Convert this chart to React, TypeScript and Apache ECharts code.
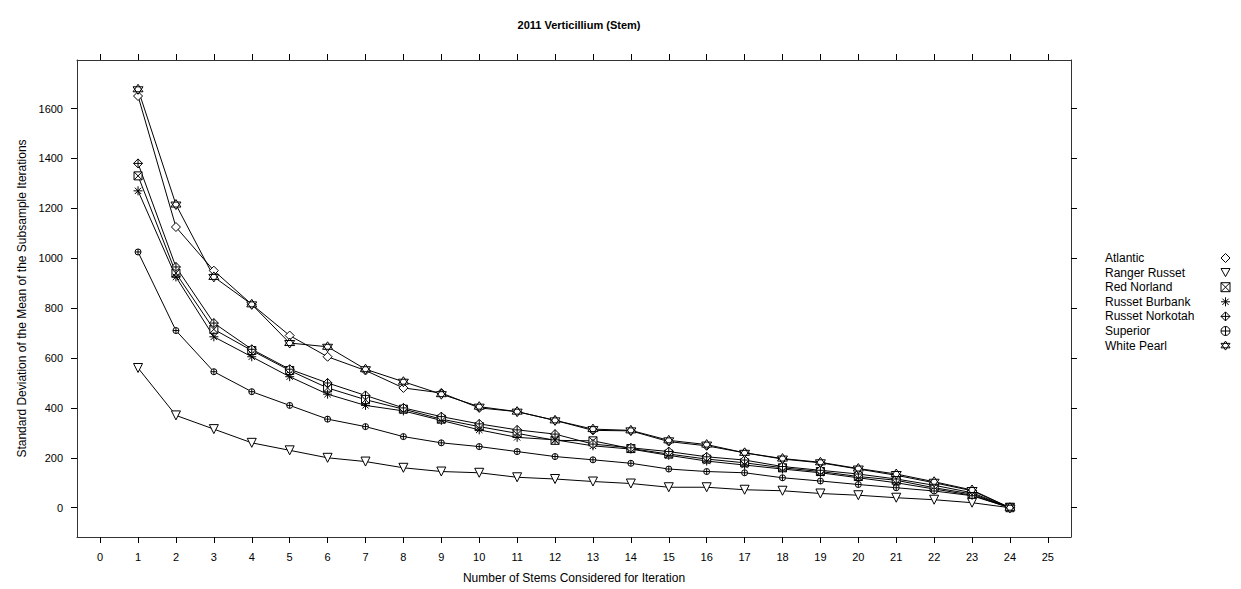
import React, { useEffect, useRef } from "react";
import * as echarts from "echarts";

const stems = [1, 2, 3, 4, 5, 6, 7, 8, 9, 10, 11, 12, 13, 14, 15, 16, 17, 18, 19, 20, 21, 22, 23, 24];

const atlantic = [1650, 1125, 950, 815, 690, 605, 550, 480, 460, 400, 385, 350, 310, 308, 265, 248, 220, 195, 180, 155, 130, 100, 68, 0];
const rangerRusset = [560, 370, 315, 260, 230, 200, 185, 160, 145, 140, 122, 115, 105, 97, 82, 82, 72, 68, 57, 50, 40, 32, 20, 0];
const redNorland = [1330, 940, 715, 630, 550, 480, 433, 395, 355, 325, 298, 270, 268, 237, 215, 195, 180, 160, 145, 125, 110, 80, 55, 0];
const russetBurbank = [1270, 925, 685, 605, 525, 455, 410, 388, 350, 312, 282, 272, 248, 235, 210, 187, 171, 155, 140, 120, 100, 75, 50, 0];
const russetNorkotah = [1380, 965, 740, 635, 555, 500, 450, 400, 365, 336, 312, 295, 255, 240, 225, 204, 191, 165, 150, 135, 115, 90, 60, 0];
const superior = [1025, 710, 545, 465, 410, 355, 325, 285, 260, 245, 225, 205, 192, 178, 155, 145, 140, 120, 107, 93, 80, 67, 48, 0];
const whitePearl = [1677, 1215, 925, 815, 660, 645, 555, 505, 455, 405, 385, 350, 315, 310, 270, 253, 220, 197, 182, 157, 135, 104, 71, 0];

const xTicks = [0, 1, 2, 3, 4, 5, 6, 7, 8, 9, 10, 11, 12, 13, 14, 15, 16, 17, 18, 19, 20, 21, 22, 23, 24, 25];
const yTicks = [0, 200, 400, 600, 800, 1000, 1200, 1400, 1600];

const varieties = ["Atlantic", "Ranger Russet", "Red Norland", "Russet Burbank", "Russet Norkotah", "Superior", "White Pearl"];
const values = [atlantic, rangerRusset, redNorland, russetBurbank, russetNorkotah, superior, whitePearl];

const symbols = [
  "path://M5,0L10,5L5,10L0,5Z",
  "path://M0,0L10,0L5,9Z",
  "path://M0,0L10,0L10,10L0,10Z M0,0L10,10 M10,0L0,10",
  "path://M5,0L5,10 M0,5L10,5 M1.5,1.5L8.5,8.5 M8.5,1.5L1.5,8.5",
  "path://M5,0L10,5L5,10L0,5Z M5,0L5,10 M0,5L10,5",
  "path://M0,5A5,5 0 1,1 10,5A5,5 0 1,1 0,5Z M5,0L5,10 M0,5L10,5",
  "path://M5,0L10,7.5L0,7.5Z M0,2.5L10,2.5L5,10Z",
];
const sizes = [9, 9, 8, 9, 9, 6, 10];

const FONT = "'Liberation Sans', Arial, sans-serif";

// lattice-style 7% padding of the data range
const xMin = -0.61;
const xMax = 25.61;
const yMin = -117.4;
const yMax = 1794.4;

export default function App() {
  const ref = useRef<HTMLDivElement>(null);
  useEffect(() => {
    if (!ref.current) return;
    const chart = echarts.init(ref.current, null, { renderer: "svg" });
    const axisLine = { show: true, onZero: false, lineStyle: { color: "#333", width: 1 } };
    const tickStyle = { show: true, inside: false, length: 6, lineStyle: { color: "#000" } };
    const series = varieties.map((name, i) => ({
      name,
      type: "line",
      xAxisIndex: 0,
      yAxisIndex: 0,
      data: stems.map((s, j) => [s, values[i][j]]),
      symbol: symbols[i],
      symbolSize: sizes[i],
      showAllSymbol: true,
      lineStyle: { color: "#000", width: 1 },
      itemStyle: { color: "#fff", borderColor: "#000", borderWidth: 1 },
      emphasis: { disabled: true },
    }));
    chart.setOption({
      animation: false,
      textStyle: { fontFamily: FONT },
      title: {
        text: "2011 Verticillium (Stem)",
        left: 574,
        top: 14,
        textAlign: "center",
        textStyle: { fontSize: 11, fontWeight: "bold", color: "#000", fontFamily: FONT },
      },
      legend: {
        orient: "vertical",
        left: 1100,
        top: 247,
        align: "right",
        selectedMode: false,
        itemWidth: 9,
        itemHeight: 9,
        itemGap: 2.6,
        formatter: "{a|{name}}",
        textStyle: {
          fontSize: 12,
          color: "#000",
          fontFamily: FONT,
          rich: { a: { width: 111, align: "left", fontSize: 12, color: "#000", fontFamily: FONT } },
        },
        itemStyle: { color: "#fff", borderColor: "#000", borderWidth: 1 },
        data: varieties.map((n, i) => ({ name: n, icon: symbols[i] })),
      },
      grid: { left: 77, right: 170, top: 60, bottom: 52, containLabel: false },
      xAxis: [
        {
          type: "value",
          position: "bottom",
          min: xMin,
          max: xMax,
          axisLine,
          axisTick: { ...tickStyle, customValues: xTicks },
          axisLabel: { show: true, customValues: xTicks, fontSize: 11, color: "#000", margin: 14, fontFamily: FONT },
          splitLine: { show: false },
          name: "Number of Stems Considered for Iteration",
          nameLocation: "middle",
          nameGap: 35,
          nameTextStyle: { fontSize: 12, color: "#000", fontFamily: FONT },
        },
        {
          type: "value",
          position: "top",
          min: xMin,
          max: xMax,
          axisLine,
          axisTick: { ...tickStyle, customValues: xTicks },
          axisLabel: { show: false },
          splitLine: { show: false },
        },
      ],
      yAxis: [
        {
          type: "value",
          position: "left",
          min: yMin,
          max: yMax,
          axisLine,
          axisTick: { ...tickStyle, customValues: yTicks },
          axisLabel: {
            show: true,
            customValues: yTicks,
            fontSize: 11,
            color: "#000",
            margin: 14,
            fontFamily: FONT,
            formatter: (v: number) => String(v),
          },
          splitLine: { show: false },
          name: "Standard Deviation of the Mean of the Subsample Iterations",
          nameLocation: "middle",
          nameGap: 45,
          nameRotate: 90,
          nameTextStyle: { fontSize: 12, color: "#000", fontFamily: FONT },
        },
        {
          type: "value",
          position: "right",
          min: yMin,
          max: yMax,
          axisLine,
          axisTick: { ...tickStyle, customValues: yTicks },
          axisLabel: { show: false },
          splitLine: { show: false },
        },
      ],
      series,
    });
    return () => chart.dispose();
  }, []);
  return (
    <div
      ref={ref}
      style={{ position: "fixed", left: 0, top: 0, width: 1241, height: 589, background: "#fff" }}
    />
  );
}
